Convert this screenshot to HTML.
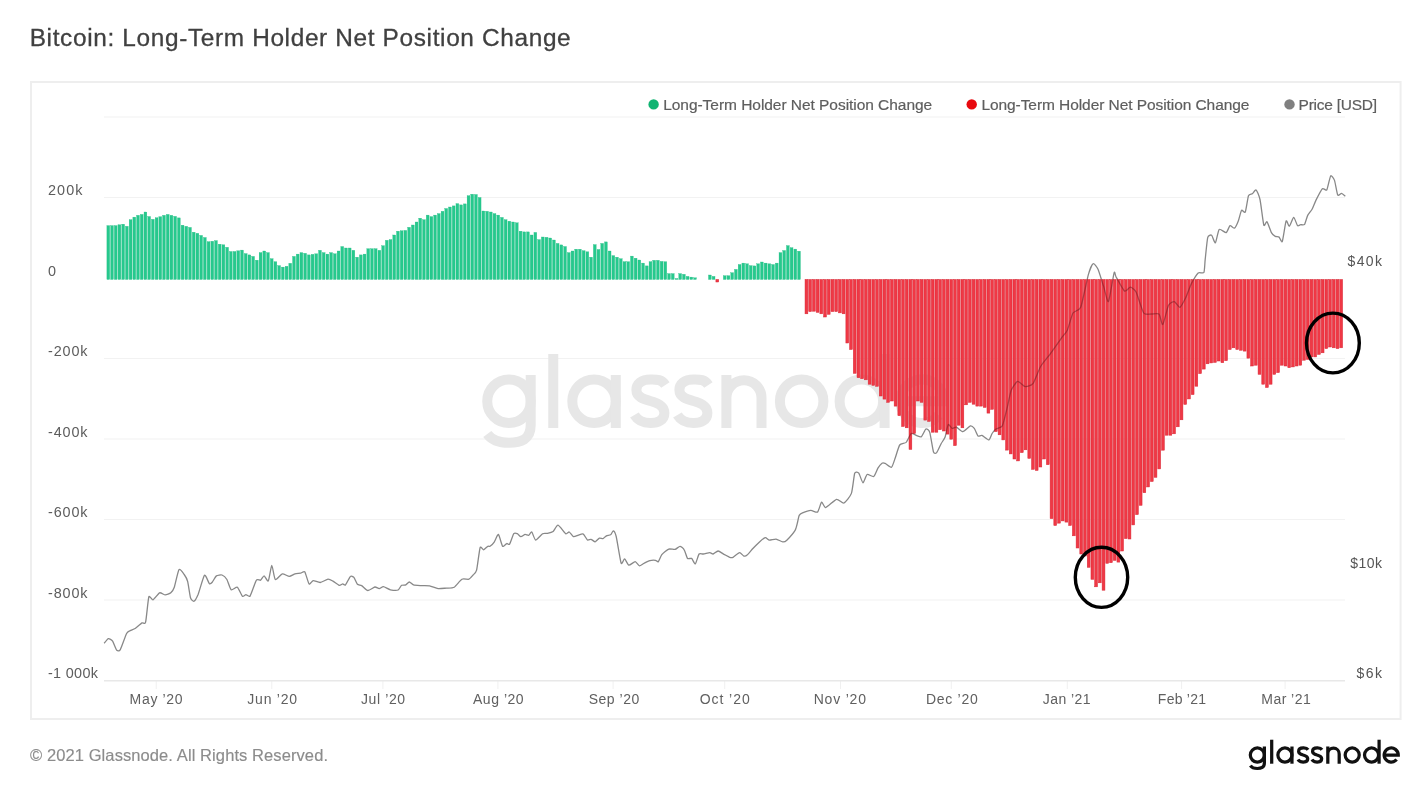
<!DOCTYPE html>
<html><head><meta charset="utf-8"><style>
html,body{margin:0;padding:0;background:#fff;width:1426px;height:785px;overflow:hidden}
svg{display:block}
text{font-family:"Liberation Sans",sans-serif}
</style></head><body>
<svg width="1426" height="785" viewBox="0 0 1426 785">
<rect x="0" y="0" width="1426" height="785" fill="#fff"/>
<text x="29.7" y="46" font-size="24.4" fill="#404040" stroke="#404040" stroke-width="0.3" textLength="541" lengthAdjust="spacing">Bitcoin: Long-Term Holder Net Position Change</text>
<rect x="31" y="82" width="1369.6" height="637" fill="none" stroke="#eeeeee" stroke-width="2"/>
<g stroke="#f2f2f2" stroke-width="1.2">
<line x1="104" y1="117" x2="1345" y2="117"/>
<line x1="104" y1="197.5" x2="1345" y2="197.5"/>
<line x1="104" y1="358.5" x2="1345" y2="358.5"/>
<line x1="104" y1="439" x2="1345" y2="439"/>
<line x1="104" y1="519.5" x2="1345" y2="519.5"/>
<line x1="104" y1="600" x2="1345" y2="600"/>
</g>
<g stroke="#f0f0f0" stroke-width="1"><line x1="156.2" y1="681" x2="156.2" y2="689"/><line x1="271.8" y1="681" x2="271.8" y2="689"/><line x1="382.9" y1="681" x2="382.9" y2="689"/><line x1="497.9" y1="681" x2="497.9" y2="689"/><line x1="613.1" y1="681" x2="613.1" y2="689"/><line x1="724.7" y1="681" x2="724.7" y2="689"/><line x1="840.5" y1="681" x2="840.5" y2="689"/><line x1="951.3" y1="681" x2="951.3" y2="689"/><line x1="1067.3" y1="681" x2="1067.3" y2="689"/><line x1="1181.6" y1="681" x2="1181.6" y2="689"/><line x1="1285.1" y1="681" x2="1285.1" y2="689"/></g>
<line x1="104" y1="680.7" x2="1345" y2="680.7" stroke="#e8e8e8" stroke-width="1.5"/>
<defs><g id="gn" fill="none" stroke-width="10">
<circle cx="26.7" cy="-26.75" r="21.75"/><path d="M48.4,-53 V-3 C48.4,12 38,14.8 26.7,14.8 C16,14.8 9,11.5 5,6"/>
<path d="M70.95,-74 V0"/>
<circle cx="111.75" cy="-26.75" r="21.75"/><path d="M133.5,-53 V0"/>
<path transform="translate(148.1,0)" d="M35,-43 C31,-49 26,-48.5 20,-48.5 C11,-48.5 6,-44 6,-38 C6,-31 13,-29 20,-27 C28,-25 34,-22 34,-15 C34,-8 28,-5 20,-5 C12,-5 7,-8 4,-13"/>
<path transform="translate(191.1,0)" d="M35,-43 C31,-49 26,-48.5 20,-48.5 C11,-48.5 6,-44 6,-38 C6,-31 13,-29 20,-27 C28,-25 34,-22 34,-15 C34,-8 28,-5 20,-5 C12,-5 7,-8 4,-13"/>
<path d="M244.1,-53 V0 M244.1,-30.25 A17.55,17.55 0 0 1 279.2,-30.25 V0"/>
<circle cx="319.35" cy="-26.75" r="21.75"/>
<circle cx="379.05" cy="-26.75" r="21.75"/><path d="M402.3,-74 V0"/>
<path d="M417.9,-26.75 H461.5 A21.75,21.75 0 1 0 456.4,-12.8"/>
</g></defs>
<use href="#gn" transform="translate(482.3,428)" stroke="#e7e7e7"/>
<g font-size="15.5" fill="#5e5e5e" stroke="#5e5e5e" stroke-width="0.2">
<text x="663.2" y="109.7" textLength="269" lengthAdjust="spacing">Long-Term Holder Net Position Change</text>
<text x="981.4" y="109.7" textLength="268" lengthAdjust="spacing">Long-Term Holder Net Position Change</text>
<text x="1298.6" y="109.7" textLength="78.5" lengthAdjust="spacing">Price [USD]</text>
</g>
<circle cx="653.6" cy="104.4" r="5.2" fill="#10b472"/>
<circle cx="971.7" cy="104.4" r="5.2" fill="#e80a0f"/>
<circle cx="1289.5" cy="104.4" r="5.2" fill="#808080"/>
<g font-size="14.4" fill="#5c5c5c">
<text x="48" y="195.2" textLength="34.5" lengthAdjust="spacing">200k</text>
<text x="48" y="275.9">0</text>
<text x="48" y="356.3" textLength="39.5" lengthAdjust="spacing">-200k</text>
<text x="48" y="436.8" textLength="39.5" lengthAdjust="spacing">-400k</text>
<text x="48" y="517.3" textLength="39.5" lengthAdjust="spacing">-600k</text>
<text x="48" y="597.8" textLength="39.5" lengthAdjust="spacing">-800k</text>
<text x="48" y="678.3" textLength="50" lengthAdjust="spacing">-1 000k</text>
</g>
<g font-size="14" fill="#555" text-anchor="end">
<text x="1382" y="265.5" textLength="34.5" lengthAdjust="spacing">$40k</text>
<text x="1382" y="567.7" textLength="31.8" lengthAdjust="spacing">$10k</text>
<text x="1382" y="677.9" textLength="25.4" lengthAdjust="spacing">$6k</text>
</g>
<g font-size="14" fill="#606060" text-anchor="middle">
<text x="156.1" y="703.7" textLength="53.0" lengthAdjust="spacing">May ’20</text>
<text x="272.2" y="703.7" textLength="49.7" lengthAdjust="spacing">Jun ’20</text>
<text x="383" y="703.7" textLength="44.2" lengthAdjust="spacing">Jul ’20</text>
<text x="498.3" y="703.7" textLength="50.7" lengthAdjust="spacing">Aug ’20</text>
<text x="614" y="703.7" textLength="50.7" lengthAdjust="spacing">Sep ’20</text>
<text x="724.7" y="703.7" textLength="50.0" lengthAdjust="spacing">Oct ’20</text>
<text x="839.8" y="703.7" textLength="52.3" lengthAdjust="spacing">Nov ’20</text>
<text x="951.8" y="703.7" textLength="51.8" lengthAdjust="spacing">Dec ’20</text>
<text x="1066.7" y="703.7" textLength="47.7" lengthAdjust="spacing">Jan ’21</text>
<text x="1181.9" y="703.7" textLength="48.1" lengthAdjust="spacing">Feb ’21</text>
<text x="1286" y="703.7" textLength="49.4" lengthAdjust="spacing">Mar ’21</text>
</g>
<g fill="#26c98d" stroke="#20b981" stroke-width="0.3">
<rect x="106.90" y="225.60" width="2.8" height="53.90"/>
<rect x="110.61" y="225.60" width="2.8" height="53.90"/>
<rect x="114.33" y="225.60" width="2.8" height="53.90"/>
<rect x="118.04" y="224.76" width="2.8" height="54.74"/>
<rect x="121.75" y="224.20" width="2.8" height="55.30"/>
<rect x="125.47" y="226.30" width="2.8" height="53.20"/>
<rect x="129.18" y="219.70" width="2.8" height="59.80"/>
<rect x="132.89" y="217.13" width="2.8" height="62.37"/>
<rect x="136.61" y="215.30" width="2.8" height="64.20"/>
<rect x="140.32" y="214.40" width="2.8" height="65.10"/>
<rect x="144.03" y="212.00" width="2.8" height="67.50"/>
<rect x="147.75" y="216.50" width="2.8" height="63.00"/>
<rect x="151.46" y="219.30" width="2.8" height="60.20"/>
<rect x="155.18" y="217.78" width="2.8" height="61.72"/>
<rect x="158.89" y="216.70" width="2.8" height="62.80"/>
<rect x="162.60" y="215.30" width="2.8" height="64.20"/>
<rect x="166.32" y="214.40" width="2.8" height="65.10"/>
<rect x="170.03" y="215.30" width="2.8" height="64.20"/>
<rect x="173.74" y="216.34" width="2.8" height="63.16"/>
<rect x="177.46" y="217.90" width="2.8" height="61.60"/>
<rect x="181.17" y="225.20" width="2.8" height="54.30"/>
<rect x="184.88" y="226.31" width="2.8" height="53.19"/>
<rect x="188.60" y="227.40" width="2.8" height="52.10"/>
<rect x="192.31" y="232.20" width="2.8" height="47.30"/>
<rect x="196.02" y="233.30" width="2.8" height="46.20"/>
<rect x="199.74" y="235.40" width="2.8" height="44.10"/>
<rect x="203.45" y="237.50" width="2.8" height="42.00"/>
<rect x="207.16" y="241.70" width="2.8" height="37.80"/>
<rect x="210.88" y="241.25" width="2.8" height="38.25"/>
<rect x="214.59" y="240.60" width="2.8" height="38.90"/>
<rect x="218.30" y="244.20" width="2.8" height="35.30"/>
<rect x="222.02" y="244.80" width="2.8" height="34.70"/>
<rect x="225.73" y="247.30" width="2.8" height="32.20"/>
<rect x="229.45" y="251.50" width="2.8" height="28.00"/>
<rect x="233.16" y="251.50" width="2.8" height="28.00"/>
<rect x="236.87" y="250.78" width="2.8" height="28.72"/>
<rect x="240.59" y="250.10" width="2.8" height="29.40"/>
<rect x="244.30" y="253.60" width="2.8" height="25.90"/>
<rect x="248.01" y="254.90" width="2.8" height="24.60"/>
<rect x="251.73" y="256.40" width="2.8" height="23.10"/>
<rect x="255.44" y="260.20" width="2.8" height="19.30"/>
<rect x="259.15" y="252.60" width="2.8" height="26.90"/>
<rect x="262.87" y="251.00" width="2.8" height="28.50"/>
<rect x="266.58" y="252.60" width="2.8" height="26.90"/>
<rect x="270.29" y="258.70" width="2.8" height="20.80"/>
<rect x="274.01" y="261.70" width="2.8" height="17.80"/>
<rect x="277.72" y="265.60" width="2.8" height="13.90"/>
<rect x="281.43" y="267.10" width="2.8" height="12.40"/>
<rect x="285.15" y="266.30" width="2.8" height="13.20"/>
<rect x="288.86" y="263.30" width="2.8" height="16.20"/>
<rect x="292.57" y="256.40" width="2.8" height="23.10"/>
<rect x="296.29" y="254.10" width="2.8" height="25.40"/>
<rect x="300.00" y="252.60" width="2.8" height="26.90"/>
<rect x="303.72" y="253.30" width="2.8" height="26.20"/>
<rect x="307.43" y="254.90" width="2.8" height="24.60"/>
<rect x="311.14" y="254.36" width="2.8" height="25.14"/>
<rect x="314.86" y="253.80" width="2.8" height="25.70"/>
<rect x="318.57" y="250.30" width="2.8" height="29.20"/>
<rect x="322.28" y="252.60" width="2.8" height="26.90"/>
<rect x="326.00" y="254.10" width="2.8" height="25.40"/>
<rect x="329.71" y="252.60" width="2.8" height="26.90"/>
<rect x="333.42" y="253.80" width="2.8" height="25.70"/>
<rect x="337.14" y="251.00" width="2.8" height="28.50"/>
<rect x="340.85" y="246.50" width="2.8" height="33.00"/>
<rect x="344.56" y="248.00" width="2.8" height="31.50"/>
<rect x="348.28" y="248.00" width="2.8" height="31.50"/>
<rect x="351.99" y="250.30" width="2.8" height="29.20"/>
<rect x="355.70" y="257.20" width="2.8" height="22.30"/>
<rect x="359.42" y="254.90" width="2.8" height="24.60"/>
<rect x="363.13" y="254.10" width="2.8" height="25.40"/>
<rect x="366.85" y="248.70" width="2.8" height="30.80"/>
<rect x="370.56" y="248.70" width="2.8" height="30.80"/>
<rect x="374.27" y="248.70" width="2.8" height="30.80"/>
<rect x="377.99" y="250.30" width="2.8" height="29.20"/>
<rect x="381.70" y="245.70" width="2.8" height="33.80"/>
<rect x="385.41" y="240.30" width="2.8" height="39.20"/>
<rect x="389.13" y="239.60" width="2.8" height="39.90"/>
<rect x="392.84" y="235.00" width="2.8" height="44.50"/>
<rect x="396.55" y="231.20" width="2.8" height="48.30"/>
<rect x="400.27" y="230.74" width="2.8" height="48.76"/>
<rect x="403.98" y="230.40" width="2.8" height="49.10"/>
<rect x="407.69" y="227.30" width="2.8" height="52.20"/>
<rect x="411.41" y="225.00" width="2.8" height="54.50"/>
<rect x="415.12" y="222.00" width="2.8" height="57.50"/>
<rect x="418.83" y="218.20" width="2.8" height="61.30"/>
<rect x="422.55" y="219.70" width="2.8" height="59.80"/>
<rect x="426.26" y="215.10" width="2.8" height="64.40"/>
<rect x="429.97" y="216.60" width="2.8" height="62.90"/>
<rect x="433.69" y="215.10" width="2.8" height="64.40"/>
<rect x="437.40" y="213.60" width="2.8" height="65.90"/>
<rect x="441.12" y="211.30" width="2.8" height="68.20"/>
<rect x="444.83" y="208.50" width="2.8" height="71.00"/>
<rect x="448.54" y="207.00" width="2.8" height="72.50"/>
<rect x="452.26" y="205.90" width="2.8" height="73.60"/>
<rect x="455.97" y="203.60" width="2.8" height="75.90"/>
<rect x="459.68" y="204.90" width="2.8" height="74.60"/>
<rect x="463.40" y="203.90" width="2.8" height="75.60"/>
<rect x="467.11" y="195.70" width="2.8" height="83.80"/>
<rect x="470.82" y="194.20" width="2.8" height="85.30"/>
<rect x="474.54" y="194.50" width="2.8" height="85.00"/>
<rect x="478.25" y="197.50" width="2.8" height="82.00"/>
<rect x="481.96" y="211.00" width="2.8" height="68.50"/>
<rect x="485.68" y="211.30" width="2.8" height="68.20"/>
<rect x="489.39" y="212.00" width="2.8" height="67.50"/>
<rect x="493.10" y="213.60" width="2.8" height="65.90"/>
<rect x="496.82" y="215.10" width="2.8" height="64.40"/>
<rect x="500.53" y="217.40" width="2.8" height="62.10"/>
<rect x="504.24" y="219.70" width="2.8" height="59.80"/>
<rect x="507.96" y="221.20" width="2.8" height="58.30"/>
<rect x="511.67" y="222.00" width="2.8" height="57.50"/>
<rect x="515.38" y="222.80" width="2.8" height="56.70"/>
<rect x="519.10" y="231.20" width="2.8" height="48.30"/>
<rect x="522.81" y="231.90" width="2.8" height="47.60"/>
<rect x="526.53" y="231.90" width="2.8" height="47.60"/>
<rect x="530.24" y="235.00" width="2.8" height="44.50"/>
<rect x="533.95" y="232.40" width="2.8" height="47.10"/>
<rect x="537.67" y="239.60" width="2.8" height="39.90"/>
<rect x="541.38" y="237.00" width="2.8" height="42.50"/>
<rect x="545.09" y="237.30" width="2.8" height="42.20"/>
<rect x="548.81" y="238.00" width="2.8" height="41.50"/>
<rect x="552.52" y="240.00" width="2.8" height="39.50"/>
<rect x="556.23" y="243.40" width="2.8" height="36.10"/>
<rect x="559.95" y="244.90" width="2.8" height="34.60"/>
<rect x="563.66" y="246.50" width="2.8" height="33.00"/>
<rect x="567.37" y="252.60" width="2.8" height="26.90"/>
<rect x="571.09" y="251.00" width="2.8" height="28.50"/>
<rect x="574.80" y="249.20" width="2.8" height="30.30"/>
<rect x="578.51" y="249.20" width="2.8" height="30.30"/>
<rect x="582.23" y="250.70" width="2.8" height="28.80"/>
<rect x="585.94" y="251.80" width="2.8" height="27.70"/>
<rect x="589.65" y="257.20" width="2.8" height="22.30"/>
<rect x="593.37" y="244.60" width="2.8" height="34.90"/>
<rect x="597.08" y="249.50" width="2.8" height="30.00"/>
<rect x="600.80" y="243.40" width="2.8" height="36.10"/>
<rect x="604.51" y="241.90" width="2.8" height="37.60"/>
<rect x="608.22" y="251.00" width="2.8" height="28.50"/>
<rect x="611.94" y="255.60" width="2.8" height="23.90"/>
<rect x="615.65" y="257.20" width="2.8" height="22.30"/>
<rect x="619.36" y="258.70" width="2.8" height="20.80"/>
<rect x="623.08" y="261.70" width="2.8" height="17.80"/>
<rect x="626.79" y="261.70" width="2.8" height="17.80"/>
<rect x="630.50" y="256.10" width="2.8" height="23.40"/>
<rect x="634.22" y="258.20" width="2.8" height="21.30"/>
<rect x="637.93" y="260.00" width="2.8" height="19.50"/>
<rect x="641.64" y="263.10" width="2.8" height="16.40"/>
<rect x="645.36" y="265.90" width="2.8" height="13.60"/>
<rect x="649.07" y="261.70" width="2.8" height="17.80"/>
<rect x="652.78" y="260.30" width="2.8" height="19.20"/>
<rect x="656.50" y="260.30" width="2.8" height="19.20"/>
<rect x="660.21" y="261.40" width="2.8" height="18.10"/>
<rect x="663.92" y="261.70" width="2.8" height="17.80"/>
<rect x="667.64" y="273.60" width="2.8" height="5.90"/>
<rect x="671.35" y="273.60" width="2.8" height="5.90"/>
<rect x="675.07" y="278.50" width="2.8" height="1.00"/>
<rect x="678.78" y="273.60" width="2.8" height="5.90"/>
<rect x="682.49" y="274.30" width="2.8" height="5.20"/>
<rect x="686.21" y="276.40" width="2.8" height="3.10"/>
<rect x="689.92" y="277.10" width="2.8" height="2.40"/>
<rect x="693.63" y="277.80" width="2.8" height="1.70"/>
<rect x="708.49" y="275.00" width="2.8" height="4.50"/>
<rect x="712.20" y="276.40" width="2.8" height="3.10"/>
<rect x="723.34" y="275.70" width="2.8" height="3.80"/>
<rect x="727.05" y="275.70" width="2.8" height="3.80"/>
<rect x="730.77" y="272.70" width="2.8" height="6.80"/>
<rect x="734.48" y="269.40" width="2.8" height="10.10"/>
<rect x="738.19" y="264.50" width="2.8" height="15.00"/>
<rect x="741.91" y="263.10" width="2.8" height="16.40"/>
<rect x="745.62" y="263.80" width="2.8" height="15.70"/>
<rect x="749.34" y="265.60" width="2.8" height="13.90"/>
<rect x="753.05" y="265.90" width="2.8" height="13.60"/>
<rect x="756.76" y="263.80" width="2.8" height="15.70"/>
<rect x="760.48" y="262.00" width="2.8" height="17.50"/>
<rect x="764.19" y="263.10" width="2.8" height="16.40"/>
<rect x="767.90" y="263.80" width="2.8" height="15.70"/>
<rect x="771.62" y="264.50" width="2.8" height="15.00"/>
<rect x="775.33" y="263.10" width="2.8" height="16.40"/>
<rect x="779.04" y="252.60" width="2.8" height="26.90"/>
<rect x="782.76" y="250.50" width="2.8" height="29.00"/>
<rect x="786.47" y="245.60" width="2.8" height="33.90"/>
<rect x="790.18" y="247.70" width="2.8" height="31.80"/>
<rect x="793.90" y="249.10" width="2.8" height="30.40"/>
<rect x="797.61" y="251.20" width="2.8" height="28.30"/>
</g>
<path d="M104.2,643.3 C104.6,642.8 107.6,638.8 108.4,638.6 C109.2,638.4 111.8,640.0 112.6,641.2 C113.4,642.4 116.0,649.5 116.8,650.3 C117.6,651.1 119.3,651.3 120.3,649.6 C121.3,647.9 125.6,635.4 126.6,633.5 C127.6,631.6 129.3,631.1 130.2,630.6 C131.0,630.1 133.9,629.3 135.1,628.5 C136.3,627.7 141.0,623.5 142.1,622.9 C143.2,622.3 144.9,624.8 145.6,622.2 C146.3,619.6 148.1,599.2 148.8,597.0 C149.5,594.8 151.9,600.2 153.0,599.8 C154.1,599.4 158.4,593.3 159.6,592.8 C160.8,592.3 164.1,594.9 165.2,594.9 C166.3,594.9 169.9,593.6 170.8,592.8 C171.7,592.0 173.5,589.5 174.3,587.2 C175.1,584.9 178.0,570.9 179.0,569.6 C180.0,568.3 183.3,573.3 184.2,574.5 C185.1,575.7 187.1,579.3 187.7,581.6 C188.3,583.9 189.9,595.7 190.5,597.7 C191.1,599.7 193.2,601.6 194.0,601.2 C194.8,600.9 197.1,596.8 198.2,594.2 C199.2,591.6 203.4,576.2 204.5,575.2 C205.6,574.2 208.6,583.0 209.4,583.7 C210.2,584.4 211.5,583.1 212.2,582.3 C212.9,581.5 215.4,576.6 216.4,575.9 C217.4,575.2 220.9,574.6 222.0,575.0 C223.1,575.4 226.0,578.0 226.9,579.5 C227.8,581.0 230.0,588.9 231.1,589.7 C232.2,590.5 236.3,586.5 237.4,587.2 C238.5,587.9 241.6,595.6 242.4,596.3 C243.2,597.0 245.1,594.6 245.9,594.6 C246.7,594.6 249.1,597.4 250.1,596.0 C251.1,594.6 255.3,581.8 256.4,580.2 C257.4,578.6 259.8,580.6 260.6,580.2 C261.4,579.8 263.3,575.8 264.1,575.9 C264.9,576.0 267.5,581.9 268.3,580.9 C269.1,579.9 271.1,565.5 271.8,565.4 C272.5,565.3 274.2,578.7 275.3,579.5 C276.4,580.3 280.9,574.1 282.3,573.8 C283.7,573.5 288.0,576.4 289.3,576.4 C290.6,576.4 293.9,574.1 295.0,573.8 C296.1,573.5 299.6,573.4 300.6,573.2 C301.6,573.0 304.0,570.7 304.8,571.8 C305.6,572.9 308.2,583.0 309.0,583.9 C309.8,584.8 312.1,580.7 313.2,580.6 C314.3,580.5 318.7,582.6 320.2,582.5 C321.7,582.4 326.7,579.3 328.0,579.2 C329.3,579.1 331.8,580.5 332.9,581.1 C334.0,581.7 338.2,585.0 339.2,585.3 C340.2,585.6 342.1,583.9 342.7,583.9 C343.3,583.9 344.7,585.6 345.5,584.9 C346.3,584.1 349.6,577.1 350.4,576.4 C351.2,575.6 353.2,576.6 353.9,577.4 C354.6,578.2 356.6,583.4 357.4,584.2 C358.2,585.0 360.6,585.0 361.6,585.6 C362.7,586.2 366.6,590.4 367.9,590.5 C369.2,590.6 373.8,587.2 374.9,587.0 C376.0,586.8 378.3,588.6 379.2,588.6 C380.1,588.6 382.3,586.6 383.4,586.7 C384.5,586.8 388.9,589.5 390.4,589.8 C391.9,590.1 397.0,590.5 398.1,590.0 C399.2,589.5 400.8,585.8 401.6,585.3 C402.4,584.8 405.0,585.2 405.8,584.9 C406.6,584.6 408.5,582.0 409.3,582.0 C410.1,582.0 412.3,584.5 413.5,584.9 C414.7,585.3 419.6,585.5 421.2,585.6 C422.8,585.7 427.9,585.5 429.6,585.8 C431.3,586.1 436.4,588.4 438.1,588.6 C439.8,588.8 444.9,588.2 446.5,588.1 C448.1,588.0 452.7,588.1 454.2,587.2 C455.7,586.3 460.4,580.0 461.9,579.2 C463.4,578.4 467.8,579.6 468.9,579.2 C470.0,578.8 472.3,575.9 473.1,575.0 C473.9,574.1 475.9,572.8 476.6,570.1 C477.3,567.4 479.4,549.7 480.1,547.7 C480.8,545.7 482.8,549.9 483.6,549.8 C484.4,549.7 487.2,546.6 487.8,546.3 C488.4,545.9 489.4,546.7 490.0,546.3 C490.6,545.9 493.4,543.3 494.2,542.1 C495.0,540.9 497.6,534.0 498.4,534.4 C499.2,534.8 501.8,545.4 502.6,546.3 C503.4,547.2 506.1,543.7 506.8,543.5 C507.5,543.3 508.9,545.2 509.6,544.2 C510.3,543.2 513.0,534.8 513.8,533.7 C514.6,532.7 516.6,533.4 517.3,533.7 C518.0,534.0 520.1,536.6 520.9,536.7 C521.7,536.8 524.3,534.5 525.1,534.4 C525.9,534.3 527.9,535.5 528.6,535.3 C529.3,535.1 531.1,531.5 531.8,532.0 C532.5,532.5 534.5,539.8 535.6,540.0 C536.7,540.2 541.4,534.4 542.6,533.7 C543.8,533.0 546.5,533.6 547.5,533.4 C548.5,533.2 552.1,532.4 553.1,531.6 C554.1,530.8 556.7,525.0 558.0,525.2 C559.3,525.4 564.6,533.0 565.7,533.7 C566.8,534.4 568.4,531.7 569.2,532.0 C570.0,532.3 572.6,536.4 573.5,536.7 C574.4,537.0 577.4,535.4 578.4,535.1 C579.4,534.8 582.4,533.6 583.3,534.1 C584.2,534.6 586.7,539.5 587.5,540.0 C588.3,540.5 590.2,539.1 591.0,539.3 C591.8,539.5 594.4,541.9 595.2,541.8 C596.0,541.7 598.6,538.4 599.4,538.1 C600.2,537.8 602.2,538.8 602.9,538.6 C603.6,538.4 605.6,536.2 606.4,535.8 C607.2,535.4 609.9,535.3 610.6,534.8 C611.3,534.3 612.8,530.7 613.4,530.9 C614.0,531.1 615.4,533.3 616.2,536.5 C617.0,539.7 620.3,560.9 621.1,563.1 C621.9,565.3 623.8,558.7 624.6,558.9 C625.4,559.1 627.7,564.9 628.8,565.2 C629.9,565.5 634.1,561.6 635.2,561.7 C636.3,561.8 638.5,565.8 639.4,565.9 C640.3,566.0 643.2,563.6 644.3,563.1 C645.3,562.6 648.8,560.9 649.9,560.6 C651.0,560.3 654.7,560.2 655.5,560.3 C656.3,560.4 657.7,562.3 658.3,561.7 C658.9,561.1 660.8,556.0 661.8,554.7 C662.8,553.4 667.5,549.6 668.8,549.1 C670.1,548.6 674.0,549.7 675.1,549.4 C676.2,549.1 679.1,546.3 680.0,546.3 C680.9,546.3 683.5,548.6 684.2,549.8 C685.0,551.0 686.8,557.5 687.5,558.4 C688.2,559.3 690.8,557.9 691.6,558.4 C692.4,558.9 694.5,564.3 695.3,563.9 C696.0,563.5 698.3,555.0 699.1,554.0 C699.9,553.0 702.1,554.1 703.2,554.0 C704.3,553.9 708.8,552.6 709.8,552.6 C710.8,552.6 712.3,554.2 713.1,554.0 C713.9,553.8 717.0,551.0 718.1,551.0 C719.2,551.0 722.7,553.7 723.9,554.3 C725.1,554.9 728.8,557.0 729.7,557.3 C730.6,557.6 732.0,557.8 733.0,557.3 C734.0,556.8 738.5,552.7 739.6,552.6 C740.7,552.5 743.0,555.8 743.8,556.0 C744.5,556.2 746.2,555.9 747.1,555.1 C748.0,554.4 751.7,549.8 752.9,548.5 C754.1,547.2 758.3,543.0 759.5,541.9 C760.7,540.8 764.3,537.9 765.3,537.7 C766.3,537.5 768.3,540.1 769.4,540.2 C770.5,540.3 774.8,538.9 776.1,539.1 C777.4,539.3 781.6,541.8 782.7,541.9 C783.8,542.0 785.6,541.4 786.8,540.2 C788.0,539.0 794.0,532.1 795.1,530.3 C796.2,528.5 797.2,523.5 797.6,522.0 C798.0,520.5 798.7,516.3 799.2,515.4 C799.7,514.5 801.3,513.4 802.5,512.9 C803.7,512.4 809.3,510.5 810.8,510.4 C812.3,510.3 816.4,512.9 817.5,512.1 C818.6,511.3 820.8,502.6 821.6,502.2 C822.4,501.8 824.2,507.9 825.7,507.6 C827.2,507.3 834.7,499.8 836.5,499.3 C838.3,498.8 842.4,503.6 843.9,503.0 C845.4,502.4 850.3,496.4 851.4,493.4 C852.5,490.4 854.0,475.2 854.7,473.2 C855.4,471.2 858.0,472.2 858.8,473.2 C859.6,474.2 862.2,482.7 863.0,482.8 C863.8,482.9 866.0,475.1 867.1,474.5 C868.2,473.9 872.6,477.1 873.7,476.5 C874.8,475.9 877.1,469.5 877.9,468.2 C878.7,466.9 881.3,463.7 882.0,463.2 C882.7,462.7 884.1,463.0 885.1,463.4 C886.1,463.8 890.5,467.9 891.5,467.3 C892.5,466.7 894.5,459.9 895.3,457.7 C896.1,455.5 898.6,446.5 899.7,445.0 C900.8,443.5 905.0,443.5 906.1,442.4 C907.2,441.2 910.2,434.2 911.2,433.5 C912.2,432.8 915.3,435.1 916.3,435.4 C917.3,435.7 920.4,437.3 921.4,436.7 C922.4,436.1 925.1,429.4 925.9,429.0 C926.7,428.6 928.9,429.9 929.7,432.2 C930.5,434.5 932.8,450.0 933.5,452.0 C934.2,454.0 935.9,453.4 936.7,452.6 C937.5,451.8 940.3,445.2 941.1,443.7 C941.9,442.2 944.3,439.2 945.0,437.3 C945.7,435.4 947.5,425.5 948.2,424.6 C948.9,423.7 951.2,428.1 952.0,428.4 C952.8,428.6 955.3,426.8 956.4,427.1 C957.5,427.4 961.4,431.7 962.8,431.6 C964.2,431.5 969.2,426.2 970.4,425.9 C971.5,425.6 973.5,427.4 974.3,428.4 C975.1,429.4 977.3,435.4 978.1,436.1 C978.9,436.8 980.8,435.0 981.9,435.4 C983.0,435.8 987.9,440.1 988.9,439.9 C989.9,439.7 991.4,434.6 992.1,433.5 C992.8,432.4 994.9,429.8 995.9,429.0 C996.9,428.2 1001.1,428.1 1002.3,425.9 C1003.4,423.7 1006.5,410.4 1007.4,406.8 C1008.3,403.2 1010.2,392.7 1011.2,390.2 C1012.2,387.7 1016.2,381.8 1017.6,381.4 C1019.0,381.0 1023.8,386.4 1025.3,386.6 C1026.8,386.8 1031.4,385.7 1032.9,383.7 C1034.4,381.7 1038.9,369.5 1040.6,366.5 C1042.3,363.5 1048.0,357.0 1050.1,354.1 C1052.2,351.2 1059.9,340.3 1061.6,337.9 C1063.3,335.5 1066.2,332.7 1067.3,330.2 C1068.4,327.7 1071.7,315.3 1073.0,313.0 C1074.3,310.7 1079.2,311.1 1080.7,307.3 C1082.2,303.5 1087.1,279.2 1088.3,274.8 C1089.5,270.4 1092.1,264.4 1093.1,263.8 C1094.1,263.2 1096.9,266.9 1097.9,269.1 C1099.0,271.4 1102.5,283.1 1103.6,286.3 C1104.6,289.6 1107.4,302.9 1108.4,301.6 C1109.5,300.3 1113.3,275.4 1114.1,272.9 C1114.9,270.4 1115.0,274.9 1116.0,276.7 C1117.0,278.5 1123.2,290.1 1124.6,291.1 C1126.0,292.2 1129.1,287.1 1130.3,287.2 C1131.5,287.3 1134.8,289.4 1136.1,292.0 C1137.4,294.6 1142.2,310.8 1143.7,313.0 C1145.2,315.2 1149.9,313.9 1151.4,314.0 C1152.9,314.1 1157.9,312.9 1159.0,314.0 C1160.1,315.1 1161.8,325.4 1162.8,324.5 C1163.8,323.6 1167.3,307.7 1168.5,305.4 C1169.7,303.1 1173.1,301.4 1174.3,301.6 C1175.5,301.8 1178.9,307.7 1180.0,307.3 C1181.1,306.9 1184.5,300.2 1185.7,297.8 C1186.9,295.4 1190.2,285.9 1191.5,283.4 C1192.8,280.9 1197.0,274.0 1198.2,272.9 C1199.4,271.8 1203.2,273.9 1203.9,272.5 C1204.6,271.1 1204.8,262.9 1205.2,259.4 C1205.6,255.9 1207.1,240.1 1207.7,237.7 C1208.3,235.3 1210.8,234.7 1211.6,235.2 C1212.4,235.7 1214.6,243.4 1215.4,242.8 C1216.2,242.2 1218.1,230.4 1219.2,229.4 C1220.3,228.4 1225.1,233.0 1226.2,232.6 C1227.3,232.2 1229.2,226.0 1230.0,225.6 C1230.8,225.2 1233.7,228.6 1234.5,228.2 C1235.3,227.8 1237.6,222.9 1238.3,221.1 C1239.0,219.3 1240.8,211.2 1241.5,210.3 C1242.2,209.4 1244.6,213.5 1245.3,212.0 C1246.0,210.5 1247.8,197.5 1248.5,195.7 C1249.2,193.9 1251.5,194.4 1252.3,193.8 C1253.1,193.2 1255.3,189.3 1256.1,189.9 C1256.9,190.5 1259.2,196.0 1260.0,199.5 C1260.8,203.0 1263.1,222.8 1263.8,225.0 C1264.5,227.2 1266.2,221.0 1267.0,221.8 C1267.8,222.6 1270.6,231.1 1271.4,232.6 C1272.2,234.1 1274.5,236.0 1275.3,236.4 C1276.1,236.8 1278.4,236.6 1279.1,237.1 C1279.8,237.6 1281.6,243.1 1282.3,241.5 C1283.0,239.9 1285.4,222.6 1286.1,221.1 C1286.8,219.6 1288.5,226.6 1289.3,226.2 C1290.1,225.8 1292.9,217.4 1293.7,217.3 C1294.5,217.2 1296.8,224.9 1297.5,225.6 C1298.2,226.3 1300.0,224.8 1300.7,224.7 C1301.4,224.6 1303.9,225.2 1304.6,224.3 C1305.3,223.4 1306.9,216.9 1307.7,215.4 C1308.5,213.9 1311.4,210.5 1312.2,209.0 C1313.0,207.5 1315.0,202.1 1316.0,200.1 C1317.0,198.1 1321.3,189.7 1322.4,188.7 C1323.5,187.7 1326.0,191.2 1326.8,189.9 C1327.6,188.6 1329.9,176.8 1330.7,175.9 C1331.5,175.0 1333.8,178.5 1334.5,180.4 C1335.2,182.3 1337.0,193.7 1337.7,195.0 C1338.4,196.3 1340.7,193.3 1341.5,193.4 C1342.3,193.5 1344.9,196.0 1345.3,196.3" fill="none" stroke="#888888" stroke-width="1.3" stroke-linejoin="round"/>
<g fill="#f03845" stroke="#d82634" stroke-width="0.5">
<rect x="805.04" y="279.5" width="2.8" height="34.30"/>
<rect x="808.75" y="279.5" width="2.8" height="32.10"/>
<rect x="812.46" y="279.5" width="2.8" height="31.70"/>
<rect x="816.18" y="279.5" width="2.8" height="32.85"/>
<rect x="819.89" y="279.5" width="2.8" height="34.30"/>
<rect x="823.61" y="279.5" width="2.8" height="37.50"/>
<rect x="827.32" y="279.5" width="2.8" height="34.78"/>
<rect x="831.03" y="279.5" width="2.8" height="32.10"/>
<rect x="834.75" y="279.5" width="2.8" height="32.10"/>
<rect x="838.46" y="279.5" width="2.8" height="33.35"/>
<rect x="842.17" y="279.5" width="2.8" height="34.30"/>
<rect x="845.89" y="279.5" width="2.8" height="63.50"/>
<rect x="849.60" y="279.5" width="2.8" height="70.00"/>
<rect x="853.31" y="279.5" width="2.8" height="93.80"/>
<rect x="857.03" y="279.5" width="2.8" height="98.20"/>
<rect x="860.74" y="279.5" width="2.8" height="99.23"/>
<rect x="864.45" y="279.5" width="2.8" height="100.30"/>
<rect x="868.17" y="279.5" width="2.8" height="104.70"/>
<rect x="871.88" y="279.5" width="2.8" height="105.84"/>
<rect x="875.59" y="279.5" width="2.8" height="106.80"/>
<rect x="879.31" y="279.5" width="2.8" height="116.50"/>
<rect x="883.02" y="279.5" width="2.8" height="119.60"/>
<rect x="886.73" y="279.5" width="2.8" height="122.80"/>
<rect x="890.45" y="279.5" width="2.8" height="121.50"/>
<rect x="894.16" y="279.5" width="2.8" height="126.60"/>
<rect x="897.88" y="279.5" width="2.8" height="136.20"/>
<rect x="901.59" y="279.5" width="2.8" height="147.00"/>
<rect x="905.30" y="279.5" width="2.8" height="148.30"/>
<rect x="909.02" y="279.5" width="2.8" height="169.90"/>
<rect x="912.73" y="279.5" width="2.8" height="154.00"/>
<rect x="916.44" y="279.5" width="2.8" height="121.50"/>
<rect x="920.16" y="279.5" width="2.8" height="122.80"/>
<rect x="923.87" y="279.5" width="2.8" height="140.60"/>
<rect x="927.58" y="279.5" width="2.8" height="141.90"/>
<rect x="931.30" y="279.5" width="2.8" height="152.70"/>
<rect x="935.01" y="279.5" width="2.8" height="152.70"/>
<rect x="938.72" y="279.5" width="2.8" height="150.20"/>
<rect x="942.44" y="279.5" width="2.8" height="151.50"/>
<rect x="946.15" y="279.5" width="2.8" height="154.60"/>
<rect x="949.86" y="279.5" width="2.8" height="159.70"/>
<rect x="953.58" y="279.5" width="2.8" height="166.10"/>
<rect x="957.29" y="279.5" width="2.8" height="145.70"/>
<rect x="961.00" y="279.5" width="2.8" height="148.30"/>
<rect x="964.72" y="279.5" width="2.8" height="125.30"/>
<rect x="968.43" y="279.5" width="2.8" height="122.80"/>
<rect x="972.15" y="279.5" width="2.8" height="124.70"/>
<rect x="975.86" y="279.5" width="2.8" height="126.60"/>
<rect x="979.57" y="279.5" width="2.8" height="126.60"/>
<rect x="983.29" y="279.5" width="2.8" height="127.90"/>
<rect x="987.00" y="279.5" width="2.8" height="133.60"/>
<rect x="990.71" y="279.5" width="2.8" height="129.80"/>
<rect x="994.43" y="279.5" width="2.8" height="152.10"/>
<rect x="998.14" y="279.5" width="2.8" height="155.30"/>
<rect x="1001.85" y="279.5" width="2.8" height="160.40"/>
<rect x="1005.57" y="279.5" width="2.8" height="170.60"/>
<rect x="1009.28" y="279.5" width="2.8" height="174.40"/>
<rect x="1012.99" y="279.5" width="2.8" height="179.50"/>
<rect x="1016.71" y="279.5" width="2.8" height="181.40"/>
<rect x="1020.42" y="279.5" width="2.8" height="173.10"/>
<rect x="1024.13" y="279.5" width="2.8" height="170.30"/>
<rect x="1027.85" y="279.5" width="2.8" height="178.87"/>
<rect x="1031.56" y="279.5" width="2.8" height="189.85"/>
<rect x="1035.27" y="279.5" width="2.8" height="190.94"/>
<rect x="1038.99" y="279.5" width="2.8" height="187.50"/>
<rect x="1042.70" y="279.5" width="2.8" height="179.50"/>
<rect x="1046.42" y="279.5" width="2.8" height="185.20"/>
<rect x="1050.13" y="279.5" width="2.8" height="239.10"/>
<rect x="1053.84" y="279.5" width="2.8" height="246.00"/>
<rect x="1057.56" y="279.5" width="2.8" height="243.64"/>
<rect x="1061.27" y="279.5" width="2.8" height="241.40"/>
<rect x="1064.98" y="279.5" width="2.8" height="242.60"/>
<rect x="1068.70" y="279.5" width="2.8" height="246.00"/>
<rect x="1072.41" y="279.5" width="2.8" height="256.30"/>
<rect x="1076.12" y="279.5" width="2.8" height="268.50"/>
<rect x="1079.84" y="279.5" width="2.8" height="274.50"/>
<rect x="1083.55" y="279.5" width="2.8" height="276.50"/>
<rect x="1087.26" y="279.5" width="2.8" height="287.80"/>
<rect x="1090.98" y="279.5" width="2.8" height="299.80"/>
<rect x="1094.69" y="279.5" width="2.8" height="307.30"/>
<rect x="1098.40" y="279.5" width="2.8" height="303.30"/>
<rect x="1102.12" y="279.5" width="2.8" height="310.70"/>
<rect x="1105.83" y="279.5" width="2.8" height="283.80"/>
<rect x="1109.54" y="279.5" width="2.8" height="283.20"/>
<rect x="1113.26" y="279.5" width="2.8" height="280.90"/>
<rect x="1116.97" y="279.5" width="2.8" height="282.60"/>
<rect x="1120.69" y="279.5" width="2.8" height="271.50"/>
<rect x="1124.40" y="279.5" width="2.8" height="259.10"/>
<rect x="1128.11" y="279.5" width="2.8" height="259.50"/>
<rect x="1131.83" y="279.5" width="2.8" height="245.40"/>
<rect x="1135.54" y="279.5" width="2.8" height="235.11"/>
<rect x="1139.25" y="279.5" width="2.8" height="225.80"/>
<rect x="1142.97" y="279.5" width="2.8" height="213.20"/>
<rect x="1146.68" y="279.5" width="2.8" height="207.44"/>
<rect x="1150.39" y="279.5" width="2.8" height="202.00"/>
<rect x="1154.11" y="279.5" width="2.8" height="197.80"/>
<rect x="1157.82" y="279.5" width="2.8" height="189.40"/>
<rect x="1161.53" y="279.5" width="2.8" height="170.67"/>
<rect x="1165.25" y="279.5" width="2.8" height="155.70"/>
<rect x="1168.96" y="279.5" width="2.8" height="155.70"/>
<rect x="1172.67" y="279.5" width="2.8" height="154.30"/>
<rect x="1176.39" y="279.5" width="2.8" height="147.30"/>
<rect x="1180.10" y="279.5" width="2.8" height="140.30"/>
<rect x="1183.81" y="279.5" width="2.8" height="124.90"/>
<rect x="1187.53" y="279.5" width="2.8" height="119.43"/>
<rect x="1191.24" y="279.5" width="2.8" height="115.10"/>
<rect x="1194.96" y="279.5" width="2.8" height="106.70"/>
<rect x="1198.67" y="279.5" width="2.8" height="94.10"/>
<rect x="1202.38" y="279.5" width="2.8" height="89.58"/>
<rect x="1206.10" y="279.5" width="2.8" height="84.30"/>
<rect x="1209.81" y="279.5" width="2.8" height="83.42"/>
<rect x="1213.52" y="279.5" width="2.8" height="82.90"/>
<rect x="1217.24" y="279.5" width="2.8" height="81.50"/>
<rect x="1220.95" y="279.5" width="2.8" height="83.20"/>
<rect x="1224.66" y="279.5" width="2.8" height="81.20"/>
<rect x="1228.38" y="279.5" width="2.8" height="70.00"/>
<rect x="1232.09" y="279.5" width="2.8" height="68.30"/>
<rect x="1235.80" y="279.5" width="2.8" height="70.00"/>
<rect x="1239.52" y="279.5" width="2.8" height="70.73"/>
<rect x="1243.23" y="279.5" width="2.8" height="71.60"/>
<rect x="1246.94" y="279.5" width="2.8" height="78.65"/>
<rect x="1250.66" y="279.5" width="2.8" height="86.50"/>
<rect x="1254.37" y="279.5" width="2.8" height="85.70"/>
<rect x="1258.08" y="279.5" width="2.8" height="94.80"/>
<rect x="1261.80" y="279.5" width="2.8" height="104.70"/>
<rect x="1265.51" y="279.5" width="2.8" height="108.00"/>
<rect x="1269.23" y="279.5" width="2.8" height="104.70"/>
<rect x="1272.94" y="279.5" width="2.8" height="94.80"/>
<rect x="1276.65" y="279.5" width="2.8" height="93.10"/>
<rect x="1280.37" y="279.5" width="2.8" height="85.70"/>
<rect x="1284.08" y="279.5" width="2.8" height="86.50"/>
<rect x="1287.79" y="279.5" width="2.8" height="88.20"/>
<rect x="1291.51" y="279.5" width="2.8" height="87.40"/>
<rect x="1295.22" y="279.5" width="2.8" height="86.50"/>
<rect x="1298.93" y="279.5" width="2.8" height="85.70"/>
<rect x="1302.65" y="279.5" width="2.8" height="80.70"/>
<rect x="1306.36" y="279.5" width="2.8" height="79.90"/>
<rect x="1310.07" y="279.5" width="2.8" height="77.40"/>
<rect x="1313.79" y="279.5" width="2.8" height="77.40"/>
<rect x="1317.50" y="279.5" width="2.8" height="74.90"/>
<rect x="1321.21" y="279.5" width="2.8" height="73.30"/>
<rect x="1324.93" y="279.5" width="2.8" height="69.10"/>
<rect x="1328.64" y="279.5" width="2.8" height="67.50"/>
<rect x="1332.35" y="279.5" width="2.8" height="68.30"/>
<rect x="1336.07" y="279.5" width="2.8" height="69.10"/>
<rect x="1339.78" y="279.5" width="2.8" height="68.30"/>
<rect x="715.91" y="279.5" width="2.8" height="2.5"/>
</g>
<clipPath id="rc">
<rect x="805.04" y="279.5" width="2.8" height="34.30"/>
<rect x="808.75" y="279.5" width="2.8" height="32.10"/>
<rect x="812.46" y="279.5" width="2.8" height="31.70"/>
<rect x="816.18" y="279.5" width="2.8" height="32.85"/>
<rect x="819.89" y="279.5" width="2.8" height="34.30"/>
<rect x="823.61" y="279.5" width="2.8" height="37.50"/>
<rect x="827.32" y="279.5" width="2.8" height="34.78"/>
<rect x="831.03" y="279.5" width="2.8" height="32.10"/>
<rect x="834.75" y="279.5" width="2.8" height="32.10"/>
<rect x="838.46" y="279.5" width="2.8" height="33.35"/>
<rect x="842.17" y="279.5" width="2.8" height="34.30"/>
<rect x="845.89" y="279.5" width="2.8" height="63.50"/>
<rect x="849.60" y="279.5" width="2.8" height="70.00"/>
<rect x="853.31" y="279.5" width="2.8" height="93.80"/>
<rect x="857.03" y="279.5" width="2.8" height="98.20"/>
<rect x="860.74" y="279.5" width="2.8" height="99.23"/>
<rect x="864.45" y="279.5" width="2.8" height="100.30"/>
<rect x="868.17" y="279.5" width="2.8" height="104.70"/>
<rect x="871.88" y="279.5" width="2.8" height="105.84"/>
<rect x="875.59" y="279.5" width="2.8" height="106.80"/>
<rect x="879.31" y="279.5" width="2.8" height="116.50"/>
<rect x="883.02" y="279.5" width="2.8" height="119.60"/>
<rect x="886.73" y="279.5" width="2.8" height="122.80"/>
<rect x="890.45" y="279.5" width="2.8" height="121.50"/>
<rect x="894.16" y="279.5" width="2.8" height="126.60"/>
<rect x="897.88" y="279.5" width="2.8" height="136.20"/>
<rect x="901.59" y="279.5" width="2.8" height="147.00"/>
<rect x="905.30" y="279.5" width="2.8" height="148.30"/>
<rect x="909.02" y="279.5" width="2.8" height="169.90"/>
<rect x="912.73" y="279.5" width="2.8" height="154.00"/>
<rect x="916.44" y="279.5" width="2.8" height="121.50"/>
<rect x="920.16" y="279.5" width="2.8" height="122.80"/>
<rect x="923.87" y="279.5" width="2.8" height="140.60"/>
<rect x="927.58" y="279.5" width="2.8" height="141.90"/>
<rect x="931.30" y="279.5" width="2.8" height="152.70"/>
<rect x="935.01" y="279.5" width="2.8" height="152.70"/>
<rect x="938.72" y="279.5" width="2.8" height="150.20"/>
<rect x="942.44" y="279.5" width="2.8" height="151.50"/>
<rect x="946.15" y="279.5" width="2.8" height="154.60"/>
<rect x="949.86" y="279.5" width="2.8" height="159.70"/>
<rect x="953.58" y="279.5" width="2.8" height="166.10"/>
<rect x="957.29" y="279.5" width="2.8" height="145.70"/>
<rect x="961.00" y="279.5" width="2.8" height="148.30"/>
<rect x="964.72" y="279.5" width="2.8" height="125.30"/>
<rect x="968.43" y="279.5" width="2.8" height="122.80"/>
<rect x="972.15" y="279.5" width="2.8" height="124.70"/>
<rect x="975.86" y="279.5" width="2.8" height="126.60"/>
<rect x="979.57" y="279.5" width="2.8" height="126.60"/>
<rect x="983.29" y="279.5" width="2.8" height="127.90"/>
<rect x="987.00" y="279.5" width="2.8" height="133.60"/>
<rect x="990.71" y="279.5" width="2.8" height="129.80"/>
<rect x="994.43" y="279.5" width="2.8" height="152.10"/>
<rect x="998.14" y="279.5" width="2.8" height="155.30"/>
<rect x="1001.85" y="279.5" width="2.8" height="160.40"/>
<rect x="1005.57" y="279.5" width="2.8" height="170.60"/>
<rect x="1009.28" y="279.5" width="2.8" height="174.40"/>
<rect x="1012.99" y="279.5" width="2.8" height="179.50"/>
<rect x="1016.71" y="279.5" width="2.8" height="181.40"/>
<rect x="1020.42" y="279.5" width="2.8" height="173.10"/>
<rect x="1024.13" y="279.5" width="2.8" height="170.30"/>
<rect x="1027.85" y="279.5" width="2.8" height="178.87"/>
<rect x="1031.56" y="279.5" width="2.8" height="189.85"/>
<rect x="1035.27" y="279.5" width="2.8" height="190.94"/>
<rect x="1038.99" y="279.5" width="2.8" height="187.50"/>
<rect x="1042.70" y="279.5" width="2.8" height="179.50"/>
<rect x="1046.42" y="279.5" width="2.8" height="185.20"/>
<rect x="1050.13" y="279.5" width="2.8" height="239.10"/>
<rect x="1053.84" y="279.5" width="2.8" height="246.00"/>
<rect x="1057.56" y="279.5" width="2.8" height="243.64"/>
<rect x="1061.27" y="279.5" width="2.8" height="241.40"/>
<rect x="1064.98" y="279.5" width="2.8" height="242.60"/>
<rect x="1068.70" y="279.5" width="2.8" height="246.00"/>
<rect x="1072.41" y="279.5" width="2.8" height="256.30"/>
<rect x="1076.12" y="279.5" width="2.8" height="268.50"/>
<rect x="1079.84" y="279.5" width="2.8" height="274.50"/>
<rect x="1083.55" y="279.5" width="2.8" height="276.50"/>
<rect x="1087.26" y="279.5" width="2.8" height="287.80"/>
<rect x="1090.98" y="279.5" width="2.8" height="299.80"/>
<rect x="1094.69" y="279.5" width="2.8" height="307.30"/>
<rect x="1098.40" y="279.5" width="2.8" height="303.30"/>
<rect x="1102.12" y="279.5" width="2.8" height="310.70"/>
<rect x="1105.83" y="279.5" width="2.8" height="283.80"/>
<rect x="1109.54" y="279.5" width="2.8" height="283.20"/>
<rect x="1113.26" y="279.5" width="2.8" height="280.90"/>
<rect x="1116.97" y="279.5" width="2.8" height="282.60"/>
<rect x="1120.69" y="279.5" width="2.8" height="271.50"/>
<rect x="1124.40" y="279.5" width="2.8" height="259.10"/>
<rect x="1128.11" y="279.5" width="2.8" height="259.50"/>
<rect x="1131.83" y="279.5" width="2.8" height="245.40"/>
<rect x="1135.54" y="279.5" width="2.8" height="235.11"/>
<rect x="1139.25" y="279.5" width="2.8" height="225.80"/>
<rect x="1142.97" y="279.5" width="2.8" height="213.20"/>
<rect x="1146.68" y="279.5" width="2.8" height="207.44"/>
<rect x="1150.39" y="279.5" width="2.8" height="202.00"/>
<rect x="1154.11" y="279.5" width="2.8" height="197.80"/>
<rect x="1157.82" y="279.5" width="2.8" height="189.40"/>
<rect x="1161.53" y="279.5" width="2.8" height="170.67"/>
<rect x="1165.25" y="279.5" width="2.8" height="155.70"/>
<rect x="1168.96" y="279.5" width="2.8" height="155.70"/>
<rect x="1172.67" y="279.5" width="2.8" height="154.30"/>
<rect x="1176.39" y="279.5" width="2.8" height="147.30"/>
<rect x="1180.10" y="279.5" width="2.8" height="140.30"/>
<rect x="1183.81" y="279.5" width="2.8" height="124.90"/>
<rect x="1187.53" y="279.5" width="2.8" height="119.43"/>
<rect x="1191.24" y="279.5" width="2.8" height="115.10"/>
<rect x="1194.96" y="279.5" width="2.8" height="106.70"/>
<rect x="1198.67" y="279.5" width="2.8" height="94.10"/>
<rect x="1202.38" y="279.5" width="2.8" height="89.58"/>
<rect x="1206.10" y="279.5" width="2.8" height="84.30"/>
<rect x="1209.81" y="279.5" width="2.8" height="83.42"/>
<rect x="1213.52" y="279.5" width="2.8" height="82.90"/>
<rect x="1217.24" y="279.5" width="2.8" height="81.50"/>
<rect x="1220.95" y="279.5" width="2.8" height="83.20"/>
<rect x="1224.66" y="279.5" width="2.8" height="81.20"/>
<rect x="1228.38" y="279.5" width="2.8" height="70.00"/>
<rect x="1232.09" y="279.5" width="2.8" height="68.30"/>
<rect x="1235.80" y="279.5" width="2.8" height="70.00"/>
<rect x="1239.52" y="279.5" width="2.8" height="70.73"/>
<rect x="1243.23" y="279.5" width="2.8" height="71.60"/>
<rect x="1246.94" y="279.5" width="2.8" height="78.65"/>
<rect x="1250.66" y="279.5" width="2.8" height="86.50"/>
<rect x="1254.37" y="279.5" width="2.8" height="85.70"/>
<rect x="1258.08" y="279.5" width="2.8" height="94.80"/>
<rect x="1261.80" y="279.5" width="2.8" height="104.70"/>
<rect x="1265.51" y="279.5" width="2.8" height="108.00"/>
<rect x="1269.23" y="279.5" width="2.8" height="104.70"/>
<rect x="1272.94" y="279.5" width="2.8" height="94.80"/>
<rect x="1276.65" y="279.5" width="2.8" height="93.10"/>
<rect x="1280.37" y="279.5" width="2.8" height="85.70"/>
<rect x="1284.08" y="279.5" width="2.8" height="86.50"/>
<rect x="1287.79" y="279.5" width="2.8" height="88.20"/>
<rect x="1291.51" y="279.5" width="2.8" height="87.40"/>
<rect x="1295.22" y="279.5" width="2.8" height="86.50"/>
<rect x="1298.93" y="279.5" width="2.8" height="85.70"/>
<rect x="1302.65" y="279.5" width="2.8" height="80.70"/>
<rect x="1306.36" y="279.5" width="2.8" height="79.90"/>
<rect x="1310.07" y="279.5" width="2.8" height="77.40"/>
<rect x="1313.79" y="279.5" width="2.8" height="77.40"/>
<rect x="1317.50" y="279.5" width="2.8" height="74.90"/>
<rect x="1321.21" y="279.5" width="2.8" height="73.30"/>
<rect x="1324.93" y="279.5" width="2.8" height="69.10"/>
<rect x="1328.64" y="279.5" width="2.8" height="67.50"/>
<rect x="1332.35" y="279.5" width="2.8" height="68.30"/>
<rect x="1336.07" y="279.5" width="2.8" height="69.10"/>
<rect x="1339.78" y="279.5" width="2.8" height="68.30"/>
<rect x="715.91" y="279.5" width="2.8" height="2.5"/>
</clipPath>
<path d="M104.2,643.3 C104.6,642.8 107.6,638.8 108.4,638.6 C109.2,638.4 111.8,640.0 112.6,641.2 C113.4,642.4 116.0,649.5 116.8,650.3 C117.6,651.1 119.3,651.3 120.3,649.6 C121.3,647.9 125.6,635.4 126.6,633.5 C127.6,631.6 129.3,631.1 130.2,630.6 C131.0,630.1 133.9,629.3 135.1,628.5 C136.3,627.7 141.0,623.5 142.1,622.9 C143.2,622.3 144.9,624.8 145.6,622.2 C146.3,619.6 148.1,599.2 148.8,597.0 C149.5,594.8 151.9,600.2 153.0,599.8 C154.1,599.4 158.4,593.3 159.6,592.8 C160.8,592.3 164.1,594.9 165.2,594.9 C166.3,594.9 169.9,593.6 170.8,592.8 C171.7,592.0 173.5,589.5 174.3,587.2 C175.1,584.9 178.0,570.9 179.0,569.6 C180.0,568.3 183.3,573.3 184.2,574.5 C185.1,575.7 187.1,579.3 187.7,581.6 C188.3,583.9 189.9,595.7 190.5,597.7 C191.1,599.7 193.2,601.6 194.0,601.2 C194.8,600.9 197.1,596.8 198.2,594.2 C199.2,591.6 203.4,576.2 204.5,575.2 C205.6,574.2 208.6,583.0 209.4,583.7 C210.2,584.4 211.5,583.1 212.2,582.3 C212.9,581.5 215.4,576.6 216.4,575.9 C217.4,575.2 220.9,574.6 222.0,575.0 C223.1,575.4 226.0,578.0 226.9,579.5 C227.8,581.0 230.0,588.9 231.1,589.7 C232.2,590.5 236.3,586.5 237.4,587.2 C238.5,587.9 241.6,595.6 242.4,596.3 C243.2,597.0 245.1,594.6 245.9,594.6 C246.7,594.6 249.1,597.4 250.1,596.0 C251.1,594.6 255.3,581.8 256.4,580.2 C257.4,578.6 259.8,580.6 260.6,580.2 C261.4,579.8 263.3,575.8 264.1,575.9 C264.9,576.0 267.5,581.9 268.3,580.9 C269.1,579.9 271.1,565.5 271.8,565.4 C272.5,565.3 274.2,578.7 275.3,579.5 C276.4,580.3 280.9,574.1 282.3,573.8 C283.7,573.5 288.0,576.4 289.3,576.4 C290.6,576.4 293.9,574.1 295.0,573.8 C296.1,573.5 299.6,573.4 300.6,573.2 C301.6,573.0 304.0,570.7 304.8,571.8 C305.6,572.9 308.2,583.0 309.0,583.9 C309.8,584.8 312.1,580.7 313.2,580.6 C314.3,580.5 318.7,582.6 320.2,582.5 C321.7,582.4 326.7,579.3 328.0,579.2 C329.3,579.1 331.8,580.5 332.9,581.1 C334.0,581.7 338.2,585.0 339.2,585.3 C340.2,585.6 342.1,583.9 342.7,583.9 C343.3,583.9 344.7,585.6 345.5,584.9 C346.3,584.1 349.6,577.1 350.4,576.4 C351.2,575.6 353.2,576.6 353.9,577.4 C354.6,578.2 356.6,583.4 357.4,584.2 C358.2,585.0 360.6,585.0 361.6,585.6 C362.7,586.2 366.6,590.4 367.9,590.5 C369.2,590.6 373.8,587.2 374.9,587.0 C376.0,586.8 378.3,588.6 379.2,588.6 C380.1,588.6 382.3,586.6 383.4,586.7 C384.5,586.8 388.9,589.5 390.4,589.8 C391.9,590.1 397.0,590.5 398.1,590.0 C399.2,589.5 400.8,585.8 401.6,585.3 C402.4,584.8 405.0,585.2 405.8,584.9 C406.6,584.6 408.5,582.0 409.3,582.0 C410.1,582.0 412.3,584.5 413.5,584.9 C414.7,585.3 419.6,585.5 421.2,585.6 C422.8,585.7 427.9,585.5 429.6,585.8 C431.3,586.1 436.4,588.4 438.1,588.6 C439.8,588.8 444.9,588.2 446.5,588.1 C448.1,588.0 452.7,588.1 454.2,587.2 C455.7,586.3 460.4,580.0 461.9,579.2 C463.4,578.4 467.8,579.6 468.9,579.2 C470.0,578.8 472.3,575.9 473.1,575.0 C473.9,574.1 475.9,572.8 476.6,570.1 C477.3,567.4 479.4,549.7 480.1,547.7 C480.8,545.7 482.8,549.9 483.6,549.8 C484.4,549.7 487.2,546.6 487.8,546.3 C488.4,545.9 489.4,546.7 490.0,546.3 C490.6,545.9 493.4,543.3 494.2,542.1 C495.0,540.9 497.6,534.0 498.4,534.4 C499.2,534.8 501.8,545.4 502.6,546.3 C503.4,547.2 506.1,543.7 506.8,543.5 C507.5,543.3 508.9,545.2 509.6,544.2 C510.3,543.2 513.0,534.8 513.8,533.7 C514.6,532.7 516.6,533.4 517.3,533.7 C518.0,534.0 520.1,536.6 520.9,536.7 C521.7,536.8 524.3,534.5 525.1,534.4 C525.9,534.3 527.9,535.5 528.6,535.3 C529.3,535.1 531.1,531.5 531.8,532.0 C532.5,532.5 534.5,539.8 535.6,540.0 C536.7,540.2 541.4,534.4 542.6,533.7 C543.8,533.0 546.5,533.6 547.5,533.4 C548.5,533.2 552.1,532.4 553.1,531.6 C554.1,530.8 556.7,525.0 558.0,525.2 C559.3,525.4 564.6,533.0 565.7,533.7 C566.8,534.4 568.4,531.7 569.2,532.0 C570.0,532.3 572.6,536.4 573.5,536.7 C574.4,537.0 577.4,535.4 578.4,535.1 C579.4,534.8 582.4,533.6 583.3,534.1 C584.2,534.6 586.7,539.5 587.5,540.0 C588.3,540.5 590.2,539.1 591.0,539.3 C591.8,539.5 594.4,541.9 595.2,541.8 C596.0,541.7 598.6,538.4 599.4,538.1 C600.2,537.8 602.2,538.8 602.9,538.6 C603.6,538.4 605.6,536.2 606.4,535.8 C607.2,535.4 609.9,535.3 610.6,534.8 C611.3,534.3 612.8,530.7 613.4,530.9 C614.0,531.1 615.4,533.3 616.2,536.5 C617.0,539.7 620.3,560.9 621.1,563.1 C621.9,565.3 623.8,558.7 624.6,558.9 C625.4,559.1 627.7,564.9 628.8,565.2 C629.9,565.5 634.1,561.6 635.2,561.7 C636.3,561.8 638.5,565.8 639.4,565.9 C640.3,566.0 643.2,563.6 644.3,563.1 C645.3,562.6 648.8,560.9 649.9,560.6 C651.0,560.3 654.7,560.2 655.5,560.3 C656.3,560.4 657.7,562.3 658.3,561.7 C658.9,561.1 660.8,556.0 661.8,554.7 C662.8,553.4 667.5,549.6 668.8,549.1 C670.1,548.6 674.0,549.7 675.1,549.4 C676.2,549.1 679.1,546.3 680.0,546.3 C680.9,546.3 683.5,548.6 684.2,549.8 C685.0,551.0 686.8,557.5 687.5,558.4 C688.2,559.3 690.8,557.9 691.6,558.4 C692.4,558.9 694.5,564.3 695.3,563.9 C696.0,563.5 698.3,555.0 699.1,554.0 C699.9,553.0 702.1,554.1 703.2,554.0 C704.3,553.9 708.8,552.6 709.8,552.6 C710.8,552.6 712.3,554.2 713.1,554.0 C713.9,553.8 717.0,551.0 718.1,551.0 C719.2,551.0 722.7,553.7 723.9,554.3 C725.1,554.9 728.8,557.0 729.7,557.3 C730.6,557.6 732.0,557.8 733.0,557.3 C734.0,556.8 738.5,552.7 739.6,552.6 C740.7,552.5 743.0,555.8 743.8,556.0 C744.5,556.2 746.2,555.9 747.1,555.1 C748.0,554.4 751.7,549.8 752.9,548.5 C754.1,547.2 758.3,543.0 759.5,541.9 C760.7,540.8 764.3,537.9 765.3,537.7 C766.3,537.5 768.3,540.1 769.4,540.2 C770.5,540.3 774.8,538.9 776.1,539.1 C777.4,539.3 781.6,541.8 782.7,541.9 C783.8,542.0 785.6,541.4 786.8,540.2 C788.0,539.0 794.0,532.1 795.1,530.3 C796.2,528.5 797.2,523.5 797.6,522.0 C798.0,520.5 798.7,516.3 799.2,515.4 C799.7,514.5 801.3,513.4 802.5,512.9 C803.7,512.4 809.3,510.5 810.8,510.4 C812.3,510.3 816.4,512.9 817.5,512.1 C818.6,511.3 820.8,502.6 821.6,502.2 C822.4,501.8 824.2,507.9 825.7,507.6 C827.2,507.3 834.7,499.8 836.5,499.3 C838.3,498.8 842.4,503.6 843.9,503.0 C845.4,502.4 850.3,496.4 851.4,493.4 C852.5,490.4 854.0,475.2 854.7,473.2 C855.4,471.2 858.0,472.2 858.8,473.2 C859.6,474.2 862.2,482.7 863.0,482.8 C863.8,482.9 866.0,475.1 867.1,474.5 C868.2,473.9 872.6,477.1 873.7,476.5 C874.8,475.9 877.1,469.5 877.9,468.2 C878.7,466.9 881.3,463.7 882.0,463.2 C882.7,462.7 884.1,463.0 885.1,463.4 C886.1,463.8 890.5,467.9 891.5,467.3 C892.5,466.7 894.5,459.9 895.3,457.7 C896.1,455.5 898.6,446.5 899.7,445.0 C900.8,443.5 905.0,443.5 906.1,442.4 C907.2,441.2 910.2,434.2 911.2,433.5 C912.2,432.8 915.3,435.1 916.3,435.4 C917.3,435.7 920.4,437.3 921.4,436.7 C922.4,436.1 925.1,429.4 925.9,429.0 C926.7,428.6 928.9,429.9 929.7,432.2 C930.5,434.5 932.8,450.0 933.5,452.0 C934.2,454.0 935.9,453.4 936.7,452.6 C937.5,451.8 940.3,445.2 941.1,443.7 C941.9,442.2 944.3,439.2 945.0,437.3 C945.7,435.4 947.5,425.5 948.2,424.6 C948.9,423.7 951.2,428.1 952.0,428.4 C952.8,428.6 955.3,426.8 956.4,427.1 C957.5,427.4 961.4,431.7 962.8,431.6 C964.2,431.5 969.2,426.2 970.4,425.9 C971.5,425.6 973.5,427.4 974.3,428.4 C975.1,429.4 977.3,435.4 978.1,436.1 C978.9,436.8 980.8,435.0 981.9,435.4 C983.0,435.8 987.9,440.1 988.9,439.9 C989.9,439.7 991.4,434.6 992.1,433.5 C992.8,432.4 994.9,429.8 995.9,429.0 C996.9,428.2 1001.1,428.1 1002.3,425.9 C1003.4,423.7 1006.5,410.4 1007.4,406.8 C1008.3,403.2 1010.2,392.7 1011.2,390.2 C1012.2,387.7 1016.2,381.8 1017.6,381.4 C1019.0,381.0 1023.8,386.4 1025.3,386.6 C1026.8,386.8 1031.4,385.7 1032.9,383.7 C1034.4,381.7 1038.9,369.5 1040.6,366.5 C1042.3,363.5 1048.0,357.0 1050.1,354.1 C1052.2,351.2 1059.9,340.3 1061.6,337.9 C1063.3,335.5 1066.2,332.7 1067.3,330.2 C1068.4,327.7 1071.7,315.3 1073.0,313.0 C1074.3,310.7 1079.2,311.1 1080.7,307.3 C1082.2,303.5 1087.1,279.2 1088.3,274.8 C1089.5,270.4 1092.1,264.4 1093.1,263.8 C1094.1,263.2 1096.9,266.9 1097.9,269.1 C1099.0,271.4 1102.5,283.1 1103.6,286.3 C1104.6,289.6 1107.4,302.9 1108.4,301.6 C1109.5,300.3 1113.3,275.4 1114.1,272.9 C1114.9,270.4 1115.0,274.9 1116.0,276.7 C1117.0,278.5 1123.2,290.1 1124.6,291.1 C1126.0,292.2 1129.1,287.1 1130.3,287.2 C1131.5,287.3 1134.8,289.4 1136.1,292.0 C1137.4,294.6 1142.2,310.8 1143.7,313.0 C1145.2,315.2 1149.9,313.9 1151.4,314.0 C1152.9,314.1 1157.9,312.9 1159.0,314.0 C1160.1,315.1 1161.8,325.4 1162.8,324.5 C1163.8,323.6 1167.3,307.7 1168.5,305.4 C1169.7,303.1 1173.1,301.4 1174.3,301.6 C1175.5,301.8 1178.9,307.7 1180.0,307.3 C1181.1,306.9 1184.5,300.2 1185.7,297.8 C1186.9,295.4 1190.2,285.9 1191.5,283.4 C1192.8,280.9 1197.0,274.0 1198.2,272.9 C1199.4,271.8 1203.2,273.9 1203.9,272.5 C1204.6,271.1 1204.8,262.9 1205.2,259.4 C1205.6,255.9 1207.1,240.1 1207.7,237.7 C1208.3,235.3 1210.8,234.7 1211.6,235.2 C1212.4,235.7 1214.6,243.4 1215.4,242.8 C1216.2,242.2 1218.1,230.4 1219.2,229.4 C1220.3,228.4 1225.1,233.0 1226.2,232.6 C1227.3,232.2 1229.2,226.0 1230.0,225.6 C1230.8,225.2 1233.7,228.6 1234.5,228.2 C1235.3,227.8 1237.6,222.9 1238.3,221.1 C1239.0,219.3 1240.8,211.2 1241.5,210.3 C1242.2,209.4 1244.6,213.5 1245.3,212.0 C1246.0,210.5 1247.8,197.5 1248.5,195.7 C1249.2,193.9 1251.5,194.4 1252.3,193.8 C1253.1,193.2 1255.3,189.3 1256.1,189.9 C1256.9,190.5 1259.2,196.0 1260.0,199.5 C1260.8,203.0 1263.1,222.8 1263.8,225.0 C1264.5,227.2 1266.2,221.0 1267.0,221.8 C1267.8,222.6 1270.6,231.1 1271.4,232.6 C1272.2,234.1 1274.5,236.0 1275.3,236.4 C1276.1,236.8 1278.4,236.6 1279.1,237.1 C1279.8,237.6 1281.6,243.1 1282.3,241.5 C1283.0,239.9 1285.4,222.6 1286.1,221.1 C1286.8,219.6 1288.5,226.6 1289.3,226.2 C1290.1,225.8 1292.9,217.4 1293.7,217.3 C1294.5,217.2 1296.8,224.9 1297.5,225.6 C1298.2,226.3 1300.0,224.8 1300.7,224.7 C1301.4,224.6 1303.9,225.2 1304.6,224.3 C1305.3,223.4 1306.9,216.9 1307.7,215.4 C1308.5,213.9 1311.4,210.5 1312.2,209.0 C1313.0,207.5 1315.0,202.1 1316.0,200.1 C1317.0,198.1 1321.3,189.7 1322.4,188.7 C1323.5,187.7 1326.0,191.2 1326.8,189.9 C1327.6,188.6 1329.9,176.8 1330.7,175.9 C1331.5,175.0 1333.8,178.5 1334.5,180.4 C1335.2,182.3 1337.0,193.7 1337.7,195.0 C1338.4,196.3 1340.7,193.3 1341.5,193.4 C1342.3,193.5 1344.9,196.0 1345.3,196.3" clip-path="url(#rc)" fill="none" stroke="#888888" stroke-width="1.3" stroke-linejoin="round" opacity="0.6" style="mix-blend-mode:multiply"/>
<ellipse cx="1101.5" cy="577.3" rx="26.2" ry="30.1" fill="none" stroke="#000" stroke-width="3.4"/>
<ellipse cx="1332.9" cy="343" rx="26.4" ry="29.9" fill="none" stroke="#000" stroke-width="3.4"/>
<text x="30" y="761" font-size="16.5" fill="#8c8c8c" stroke="#8c8c8c" stroke-width="0.15" textLength="298" lengthAdjust="spacing">© 2021 Glassnode. All Rights Reserved.</text>
<use href="#gn" transform="translate(1248.7,763.7) scale(0.3241)" stroke="#111"/>
</svg>
</body></html>
